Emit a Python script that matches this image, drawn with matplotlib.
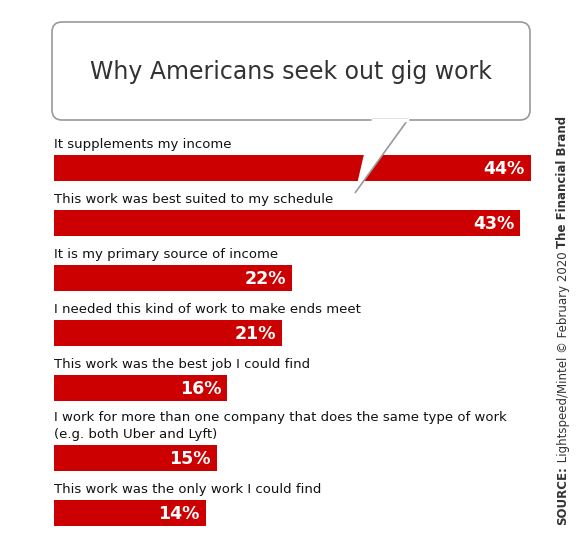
import matplotlib
matplotlib.use("Agg")
import matplotlib.pyplot as plt
from matplotlib.patches import FancyBboxPatch, Polygon

categories = [
    "It supplements my income",
    "This work was best suited to my schedule",
    "It is my primary source of income",
    "I needed this kind of work to make ends meet",
    "This work was the best job I could find",
    "I work for more than one company that does the same type of work\n(e.g. both Uber and Lyft)",
    "This work was the only work I could find",
]
values = [44, 43, 22, 21, 16, 15, 14]
title = "Why Americans seek out gig work"

W, H = 585, 549
fig = plt.figure(figsize=(W/100, H/100), dpi=100)
ax = fig.add_axes([0, 0, 1, 1])
ax.set_xlim(0, W); ax.set_ylim(H, 0); ax.axis("off")

left, scale = 54, 10.84
bar_tops = [155, 210, 265, 320, 375, 445, 500]
bh = 26
red = "#cc0000"
for cat, v, t in zip(categories, values, bar_tops):
    ax.barh(t + bh/2, v*scale, left=left, height=bh, color=red, zorder=1)
    ax.text(left + v*scale - 6, t + bh/2 + 1, f"{v}%", color="white", fontsize=12.5,
            fontweight="bold", ha="right", va="center")
    ax.text(left, t - 4, cat, fontsize=9.5, color="#111111", ha="left", va="bottom",
            linespacing=1.35)

# speech bubble
box = FancyBboxPatch((52, 22), 478, 98, boxstyle="round,pad=0,rounding_size=10",
                     fc="white", ec="#999999", lw=1.2, zorder=3)
ax.add_patch(box)
tail = Polygon([[372, 119.5], [408, 119.5], [355, 193]], closed=False, fc="white",
               ec="#999999", lw=1.2, zorder=4)
ax.add_patch(tail)
ax.plot([373, 407], [120, 120], color="white", lw=2.5, zorder=5)
ax.text(291, 72, title, fontsize=17, color="#333333", ha="center", va="center", zorder=6)

# side source text, chained bottom to top
t1 = ax.text(563, 525, "SOURCE:", rotation=90, fontsize=8.5, fontweight="bold",
             color="#333333", ha="center", va="bottom")
t2 = ax.annotate(" Lightspeed/Mintel © February 2020 ", xy=(0.5, 1), xycoords=t1,
                 rotation=90, fontsize=8.5, color="#333333", ha="center", va="bottom")
ax.annotate("The Financial Brand", xy=(0.5, 1), xycoords=t2, rotation=90, fontsize=8.5,
            fontweight="bold", color="#333333", ha="center", va="bottom")

fig.savefig("out.png", dpi=100)
